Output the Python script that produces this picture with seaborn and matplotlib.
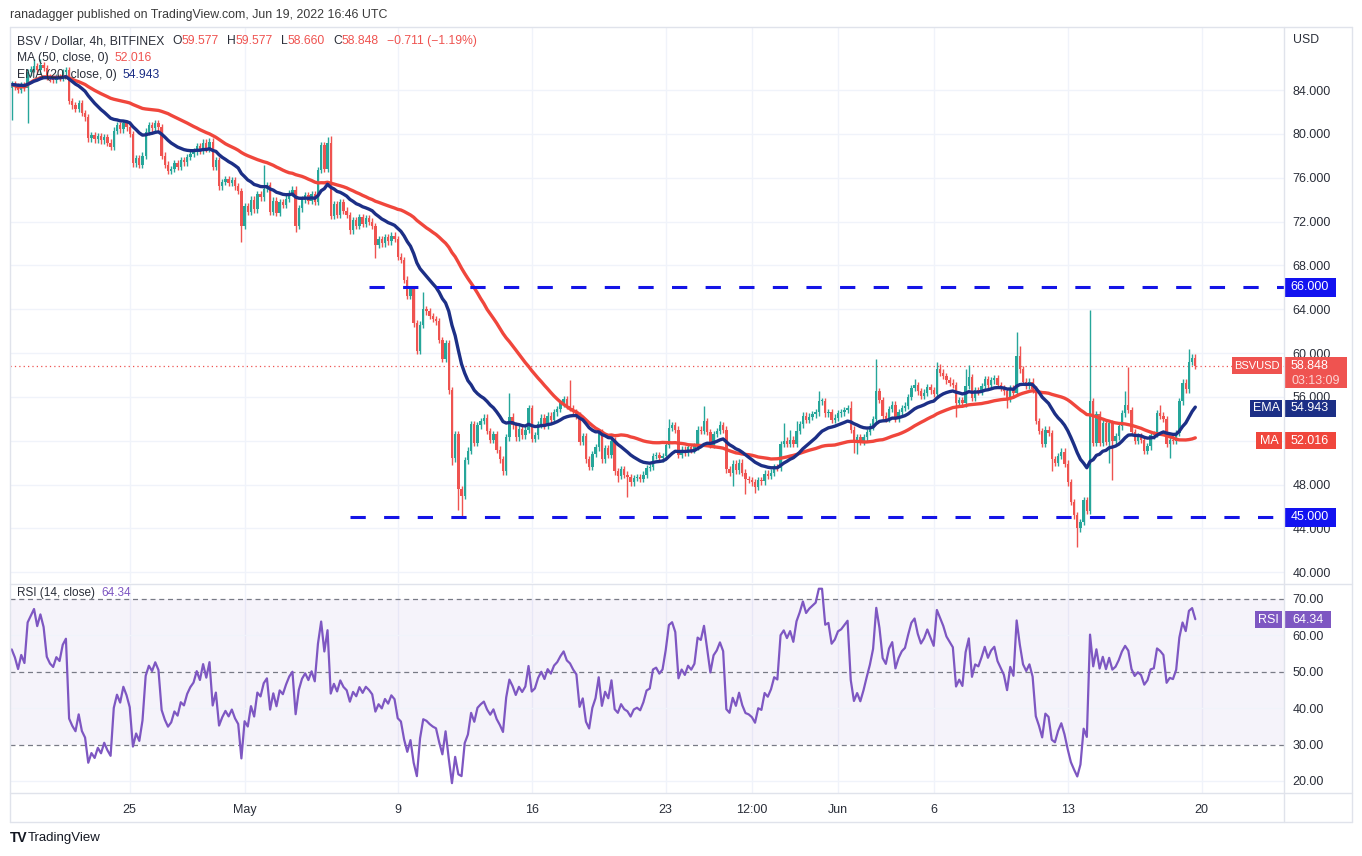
import numpy as np
import pandas as pd
import matplotlib
matplotlib.use("Agg")
import matplotlib.pyplot as plt
from matplotlib.lines import Line2D
from matplotlib.patches import Rectangle
import seaborn as sns

# 4h candles, BSV / USD (Bitfinex), Apr 18 20:00 -> Jun 19 16:00
start = pd.Timestamp("2022-04-18 20:00")
first_open = 84.2
closes = [
    84.5, 84.3, 84.0, 84.4, 84.2, 85.6, 85.9, 86.2, 85.8, 86.3,
    86.0, 85.2, 85.0, 84.9, 85.2, 85.1, 85.6, 85.8, 83.0, 82.6,
    82.3, 82.8, 81.9, 81.5, 79.6, 79.9, 79.5, 79.8, 79.4, 79.7,
    79.2, 78.8, 80.3, 80.8, 80.4, 81.0, 80.6, 80.0, 77.3, 77.8,
    77.2, 78.0, 80.2, 80.8, 80.5, 81.0, 80.6, 78.0, 77.2, 76.6,
    76.8, 77.3, 77.0, 77.6, 77.4, 77.9, 78.2, 78.4, 78.9, 78.5,
    79.2, 78.6, 79.3, 77.0, 77.6, 75.2, 75.6, 75.9, 75.5, 75.8,
    75.2, 74.8, 71.6, 73.4, 72.9, 74.0, 73.1, 74.5, 74.2, 75.0,
    75.3, 72.9, 73.9, 72.8, 73.8, 73.5, 74.1, 74.6, 74.9, 71.6,
    73.2, 74.0, 74.4, 73.9, 74.5, 73.8, 76.7, 79.0, 76.8, 79.2,
    72.5, 73.6, 72.6, 73.8, 73.0, 72.6, 71.2, 72.1, 71.6, 72.4,
    71.8, 72.3, 72.0, 71.6, 69.9, 70.4, 70.0, 70.6, 70.2, 70.7,
    70.4, 68.8, 68.5, 66.7, 65.2, 65.8, 62.7, 60.2, 62.6, 64.0,
    63.8, 63.4, 63.1, 62.9, 61.2, 59.5, 60.9, 56.6, 50.4, 52.6,
    47.6, 47.0, 50.2, 51.1, 53.5, 51.8, 53.4, 53.8, 54.1, 52.9,
    52.1, 52.6, 51.2, 50.3, 49.2, 52.3, 54.2, 53.4, 52.3, 53.1,
    52.5, 53.0, 55.0, 52.2, 52.5, 53.5, 54.1, 53.4, 54.3, 53.9,
    54.6, 54.9, 55.4, 55.8, 55.2, 55.0, 54.6, 54.3, 51.9, 52.4,
    50.3, 49.6, 50.8, 51.4, 52.8, 50.3, 51.3, 50.7, 52.0, 49.2,
    48.8, 49.4, 48.9, 48.7, 48.2, 48.6, 48.7, 48.5, 48.9, 49.5,
    49.6, 50.6, 50.7, 50.4, 50.6, 51.6, 53.2, 53.4, 53.0, 50.7,
    51.2, 50.9, 51.4, 51.2, 51.5, 53.0, 52.9, 53.8, 52.8, 51.6,
    52.6, 52.9, 53.4, 53.0, 49.4, 49.1, 49.9, 49.3, 50.0, 49.1,
    48.5, 48.4, 48.2, 47.8, 48.4, 48.3, 49.0, 48.8, 49.1, 49.6,
    49.5, 51.7, 52.0, 51.7, 52.1, 51.7, 52.9, 53.5, 54.3, 53.9,
    54.2, 54.4, 54.6, 55.6, 55.6, 54.5, 54.6, 53.9, 54.1, 54.5,
    54.6, 54.8, 55.0, 53.0, 52.0, 52.3, 51.9, 52.3, 52.8, 53.3,
    54.0, 56.5, 55.7, 54.3, 54.0, 54.9, 55.3, 54.0, 54.6, 55.0,
    55.2, 56.0, 56.8, 57.1, 56.5, 56.1, 56.4, 56.9, 56.6, 56.3,
    58.5, 58.2, 57.9, 57.5, 57.3, 57.1, 55.4, 55.7, 55.4, 57.0,
    57.8, 55.9, 56.6, 56.5, 57.0, 57.6, 57.1, 57.5, 57.7, 57.1,
    56.8, 56.5, 55.8, 56.8, 56.4, 59.7, 58.5, 57.4, 57.0, 57.4,
    56.7, 53.8, 52.9, 51.7, 53.0, 52.7, 50.3, 50.0, 50.6, 51.0,
    49.9, 48.2, 46.4, 45.2, 44.0, 44.6, 46.6, 45.6, 55.6, 51.8,
    54.4, 51.8, 53.6, 51.9, 53.6, 52.0, 52.4, 53.3, 54.5, 55.3,
    54.8, 52.8, 52.0, 52.4, 52.1, 51.1, 51.5, 52.5, 52.6, 54.5,
    54.3, 54.0, 51.7, 52.1, 52.0, 52.7, 55.6, 57.3, 56.7, 59.2,
    59.577, 58.848,
]
# long wicks (candle index -> price)
high_marks = {7: 86.8, 9: 86.8, 79: 77.2, 99: 79.7, 100: 79.8, 129: 65.6,
              156: 56.4, 175: 57.5, 206: 54.0, 217: 55.2, 222: 53.8, 242: 53.6,
              244: 53.0, 246: 53.8, 253: 56.5, 263: 55.6, 271: 59.5, 283: 57.6,
              290: 59.2, 291: 59.0, 299: 58.5, 300: 58.9, 315: 61.9, 316: 60.6,
              338: 63.9, 349: 56.5, 350: 58.7, 360: 55.3, 369: 60.4, 371: 59.577}
low_marks = {0: 81.3, 5: 81.0, 72: 70.1, 89: 71.0, 114: 68.7, 138: 49.8,
             140: 45.7, 141: 45.0, 181: 49.3, 190: 48.2, 193: 46.9, 226: 47.9,
             230: 47.1, 233: 47.2, 264: 50.9, 265: 50.8, 296: 54.2, 312: 55.0,
             326: 49.2, 334: 42.3, 344: 50.0, 345: 48.4, 363: 50.4, 371: 58.66}

support, resistance = 45.0, 66.0
tick_dates = ["2022-04-25", "2022-05-01", "2022-05-09", "2022-05-16", "2022-05-23",
              "2022-05-27 12:00", "2022-06-01", "2022-06-06", "2022-06-13", "2022-06-20"]
tick_labels = ["25", "May", "9", "16", "23", "12:00", "Jun", "6", "13", "20"]

UP, DOWN = "#26a69a", "#ef5350"
MA_COL, EMA_COL, RSI_COL = "#f0463c", "#1c2f86", "#7e57c2"
TXT = "#2a2e39"
GRID = "#f0f3fa"

df = pd.DataFrame({"close": closes})
df["idx"] = np.arange(len(df))
df["open"] = [first_open] + closes[:-1]
top = df[["open", "close"]].max(axis=1)
bot = df[["open", "close"]].min(axis=1)
df["high"] = [max(high_marks.get(i, 0), t + 0.3) for i, t in enumerate(top)]
df["low"] = [min(low_marks.get(i, 999), b - 0.3) for i, b in enumerate(bot)]
df["ma"] = df["close"].rolling(50, min_periods=1).mean()
df["ema"] = df["close"].ewm(span=20, adjust=False).mean()

# Wilder RSI(14), seeded with the average move of the first 14 bars
delta = df["close"].diff().fillna(0).to_numpy()
gains, losses = np.clip(delta, 0, None), np.clip(-delta, 0, None)
avg_g, avg_l = gains[1:15].mean(), losses[1:15].mean()
rsi = []
for g, l in zip(gains, losses):
    avg_g = (avg_g * 13 + g) / 14
    avg_l = (avg_l * 13 + l) / 14
    rsi.append(100 - 100 / (1 + avg_g / avg_l))
df["rsi"] = rsi

tick_pos = [(pd.Timestamp(d) - start) / pd.Timedelta(hours=4) for d in tick_dates]

sns.set_style("white")
plt.rcParams["font.family"] = ["Liberation Sans", "DejaVu Sans"]

W, H = 1362, 856
fig = plt.figure(figsize=(W / 100, H / 100), dpi=100)


def fx(x):
    return x / W


def fy(y):
    return 1 - y / H


ax = fig.add_axes([fx(10), fy(583), fx(1284) - fx(10), fy(27) - fy(583)])
ax_r = fig.add_axes([fx(10), fy(793), fx(1284) - fx(10), fy(584) - fy(793)], sharex=ax)
x_lo, x_hi = -0.53, 398.8

# ---- main price panel
up = df["close"] >= df["open"]
colors = np.where(up, UP, DOWN)
ax.vlines(df["idx"], df["low"], df["high"], colors=colors, linewidth=1.0, zorder=3)
ax.bar(df["idx"], (df["close"] - df["open"]).abs().clip(lower=0.08), bottom=bot,
       width=0.74, color=colors, linewidth=0, zorder=4)
sns.lineplot(data=df, x="idx", y="ma", ax=ax, color=MA_COL, linewidth=2.4, zorder=5)
sns.lineplot(data=df, x="idx", y="ema", ax=ax, color=EMA_COL, linewidth=2.4, zorder=6)

ax.hlines(resistance, 112, x_hi, colors="#1414e6", linewidth=2.2,
          linestyles=(0, (5, 6)), zorder=7)
ax.hlines(support, 106, x_hi, colors="#1414e6", linewidth=2.2,
          linestyles=(0, (5, 6)), zorder=7)
ax.axhline(closes[-1], color=DOWN, linewidth=0.9, linestyle=(0, (1, 2.5)), zorder=2)

ax.set_xlim(x_lo, x_hi)
ax.set_ylim(39.02, 89.75)
ax.set_yticks(np.arange(40, 88, 4))
ax.set_yticklabels([f"{v:.3f}" for v in np.arange(40, 88, 4)])
ax.yaxis.tick_right()
ax.tick_params(axis="y", length=0, pad=6, labelsize=9, labelcolor=TXT)
ax.set_xticks(tick_pos)
ax.tick_params(axis="x", length=0, labelbottom=False)
ax.grid(True, color=GRID, linewidth=1)
ax.set_xlabel("")
ax.set_ylabel("")
for s in ax.spines.values():
    s.set_visible(False)

# ---- RSI panel
ax_r.axhspan(30, 70, color=RSI_COL, alpha=0.07, linewidth=0)
for lvl in (30, 50, 70):
    ax_r.axhline(lvl, color="#787b86", linewidth=0.9, linestyle=(0, (4, 3)))
for lvl in (20, 40, 60):
    ax_r.axhline(lvl, color=GRID, linewidth=1)
for p in tick_pos:
    ax_r.axvline(p, color=GRID, linewidth=1, zorder=0)
sns.lineplot(data=df, x="idx", y="rsi", ax=ax_r, color=RSI_COL, linewidth=1.6, zorder=5)
ax_r.set_ylim(16.7, 74.1)
ax_r.set_yticks(np.arange(20, 71, 10))
ax_r.set_yticklabels([f"{v:.2f}" for v in np.arange(20, 71, 10)])
ax_r.yaxis.tick_right()
ax_r.tick_params(axis="y", length=0, pad=6, labelsize=9, labelcolor=TXT)
ax_r.set_xticks(tick_pos)
ax_r.set_xticklabels(tick_labels)
ax_r.tick_params(axis="x", length=0, pad=8, labelsize=9, labelcolor=TXT)
ax_r.set_xlabel("")
ax_r.set_ylabel("")
for s in ax_r.spines.values():
    s.set_visible(False)

# ---- frame lines
frame_col = "#e0e3eb"
for (x0, y0, x1, y1) in [(10, 27, 1352, 27), (10, 584, 1352, 584), (10, 793, 1352, 793),
                         (10, 822, 1352, 822), (10, 27, 10, 822), (1284, 27, 1284, 822),
                         (1352, 27, 1352, 822)]:
    fig.add_artist(Line2D([fx(x0), fx(x1)], [fy(y0), fy(y1)], color=frame_col, linewidth=1))

# ---- tags on the price scale
yax = ax.get_yaxis_transform()
yax_r = ax_r.get_yaxis_transform()


def px_to_ax(x):
    return (x - 10) / 1274


def tag(axis_tr, axis, y, text, color, x0, x1, h, fs=9, tcolor="white"):
    axis.add_patch(Rectangle((px_to_ax(x0), y - h / 2), px_to_ax(x1) - px_to_ax(x0), h,
                             transform=axis_tr, facecolor=color, edgecolor="none",
                             clip_on=False, zorder=20))
    axis.text(px_to_ax((x0 + x1) / 2), y, text, transform=axis_tr, ha="center", va="center",
              color=tcolor, fontsize=fs, clip_on=False, zorder=21)


unit = 1 / 10.96  # price per pixel
tag(yax, ax, resistance, "66.000", "#1212f0", 1284, 1336, 19 * unit)
tag(yax, ax, support, "45.000", "#1212f0", 1284, 1336, 19 * unit)
tag(yax, ax, 58.85, "BSVUSD", DOWN, 1232, 1282, 17 * unit, fs=8)
ax.add_patch(Rectangle((px_to_ax(1284), 56.81), px_to_ax(1347) - px_to_ax(1284), 2.83,
                       transform=yax, facecolor=DOWN, edgecolor="none", clip_on=False, zorder=20))
ax.text(px_to_ax(1291), 58.85, "58.848", transform=yax, ha="left", va="center",
        color="white", fontsize=9, clip_on=False, zorder=21)
ax.text(px_to_ax(1291), 57.45, "03:13:09", transform=yax, ha="left", va="center",
        color="#fbd3d2", fontsize=9, clip_on=False, zorder=21)
tag(yax, ax, 54.943, "EMA", EMA_COL, 1250, 1282, 17 * unit)
tag(yax, ax, 54.943, "54.943", EMA_COL, 1284, 1336, 17 * unit)
tag(yax, ax, 52.016, "MA", MA_COL, 1256, 1282, 17 * unit)
tag(yax, ax, 52.016, "52.016", MA_COL, 1284, 1336, 17 * unit)
tag(yax_r, ax_r, 64.34, "RSI", RSI_COL, 1255, 1282, 17 / 3.64)
tag(yax_r, ax_r, 64.34, "64.34", RSI_COL, 1284, 1331, 17 / 3.64)

# ---- header and legends (pieces laid out one after another)
renderer = fig.canvas.get_renderer()


def text_row(x_px, y_px, parts, fs=8.7):
    x = x_px
    for gap, s, c in parts:
        x += gap
        t = fig.text(fx(x), fy(y_px), s, fontsize=fs, color=c, va="center")
        x += t.get_window_extent(renderer).width


fig.text(fx(10), fy(15), "ranadagger published on TradingView.com, Jun 19, 2022 16:46 UTC",
         fontsize=8.9, color="#3a3a3a", va="center")
text_row(17, 41, [(0, "BSV / Dollar, 4h, BITFINEX", TXT), (8, "O", TXT), (0, "59.577", DOWN),
                  (8, "H", TXT), (0, "59.577", DOWN), (8, "L", TXT), (0, "58.660", DOWN),
                  (8, "C", TXT), (0, "58.848", DOWN), (8, "\u22120.711 (\u22121.19%)", DOWN)])
text_row(17, 58, [(0, "MA (50, close, 0)", TXT), (6, "52.016", DOWN)])
text_row(17, 75, [(0, "EMA (20, close, 0)", TXT), (6, "54.943", EMA_COL)])
text_row(17, 593, [(0, "RSI (14, close)", TXT), (6, "64.34", RSI_COL)], fs=8.5)
fig.text(fx(1293), fy(40), "USD", fontsize=8.8, color=TXT, va="center")
fig.text(fx(10), fy(838), "TV", fontsize=10, color="#131722", va="center", fontweight="bold")
fig.text(fx(28), fy(838), "TradingView", fontsize=9.5, color="#131722", va="center")

fig.savefig("out.png", dpi=100, facecolor="white")
